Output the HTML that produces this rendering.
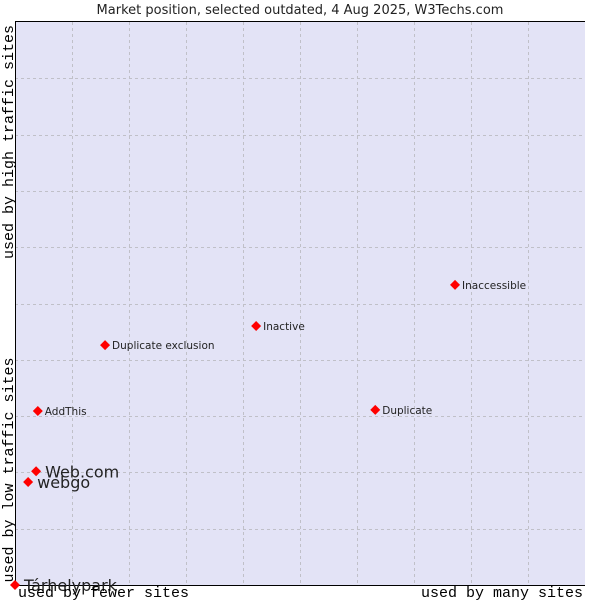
<!DOCTYPE html>
<html><head><meta charset="utf-8"><style>
body{margin:0;background:#fff;width:600px;height:600px;overflow:hidden}
svg text{font-family:"DejaVu Sans","Liberation Sans",sans-serif}
.mono{font-family:"Liberation Mono","DejaVu Sans Mono",monospace;font-size:15px}
</style></head><body>
<svg id="chart" width="600" height="600">
<text x="300" y="14" text-anchor="middle" font-size="13" fill="#222">Market position, selected outdated, 4 Aug 2025, W3Techs.com</text>
<rect x="15" y="22" width="570" height="563" fill="#e3e3f6"/>
<g id="grid"></g>
<line x1="15" y1="21.5" x2="585" y2="21.5" stroke="#000"/>
<line x1="15.5" y1="22" x2="15.5" y2="585" stroke="#000"/>
<line x1="15" y1="585.5" x2="585" y2="585.5" stroke="#000"/>
<g id="points"></g>
<text class="mono" x="18" y="597">used by fewer sites</text>
<text class="mono" x="583" y="597" text-anchor="end">used by many sites</text>
<text class="mono" transform="translate(13,142) rotate(-90)" text-anchor="middle">used by high traffic sites</text>
<text class="mono" transform="translate(13,470) rotate(-90)" text-anchor="middle">used by low traffic sites</text>
</svg>
<script>
const names=["Tárhelypark","webgo","Web.com","AddThis","Duplicate exclusion","Inactive","Duplicate","Inaccessible"];
const xValues=[0,2.3,3.7,4.0,15.8,42.3,63.2,77.2];
const yValues=[0,18.3,20.2,30.9,42.6,46.0,31.1,53.3];
const bigLabel=[true,true,true,false,false,false,false,false];
const NS="http://www.w3.org/2000/svg";
const X0=15,X1=585,Y0=585,Y1=22;
const sx=v=>X0+v/100*(X1-X0);
const sy=v=>Y0-v/100*(Y0-Y1);
const grid=document.getElementById('grid');
for(let i=1;i<10;i++){
  const v=document.createElementNS(NS,'line');
  const gx=Math.round(sx(i*10))+0.5, gy=Math.round(sy(i*10))+0.5;
  v.setAttribute('x1',gx);v.setAttribute('x2',gx);v.setAttribute('y1',Y1);v.setAttribute('y2',Y0);
  v.setAttribute('stroke','#c0c0c8');v.setAttribute('stroke-dasharray','3,3');
  
  
  grid.appendChild(v);
  const h=document.createElementNS(NS,'line');
  h.setAttribute('y1',gy);h.setAttribute('y2',gy);h.setAttribute('x1',X0);h.setAttribute('x2',X1);
  h.setAttribute('stroke','#c0c0c8');h.setAttribute('stroke-dasharray','3,3');
  
  
  grid.appendChild(h);
}
const pts=document.getElementById('points');
names.forEach((n,i)=>{
  const x=sx(xValues[i]),y=sy(yValues[i]);
  const d=document.createElementNS(NS,'polygon');
  d.setAttribute('points',`${x},${y-5} ${x+5},${y} ${x},${y+5} ${x-5},${y}`);
  d.setAttribute('fill','#f00');
  
  
  pts.appendChild(d);
  const t=document.createElementNS(NS,'text');
  t.setAttribute('x',x+(bigLabel[i]?9:7));
  t.setAttribute('y',y+(bigLabel[i]?6:4));
  t.setAttribute('font-size',bigLabel[i]?16:10.5);
  t.setAttribute('fill','#222');
  t.textContent=n;
  
  
  pts.appendChild(t);
});
</script>
</body></html>
